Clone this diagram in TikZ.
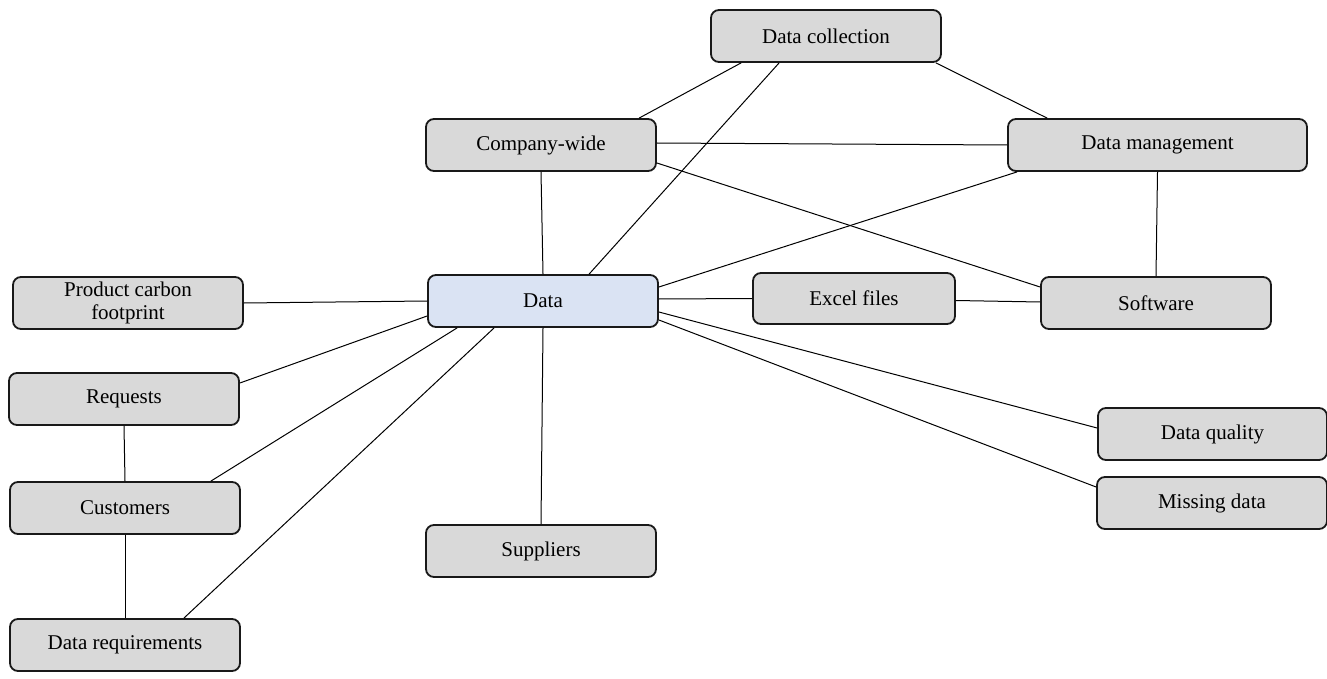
\documentclass[tikz,border=0pt]{standalone}
\usepackage{fontspec}
\setmainfont{Liberation Serif}
\begin{document}
\begin{tikzpicture}[x=1pt,y=-1pt,
  box/.style={draw=black!90, line width=1.8pt, rounded corners=8pt, fill=boxgray,
    minimum height=52pt, inner sep=2pt, align=center,
    font=\fontsize{21}{22}\selectfont},
  link/.style={draw=black, line width=1pt}]
\definecolor{boxgray}{HTML}{D9D9D9}
\definecolor{boxblue}{HTML}{DAE3F3}
\useasboundingbox (0,0) rectangle (1327,679);

% nodes
\node[box, minimum width=230pt] (dc)   at (826,36)   {Data collection};
\node[box, minimum width=230pt] (cw)   at (541,145)  {Company-wide};
\node[box, minimum width=299pt] (dm)   at (1157.5,145) {Data management};
\node[box, minimum width=230pt] (pcf)  at (128,303)  {Product carbon\\[1pt]footprint};
\node[box, minimum width=230pt, fill=boxblue] (data) at (543,301) {Data};
\node[box, minimum width=202pt, minimum height=51pt] (excel) at (854,298.5) {Excel files};
\node[box, minimum width=230pt] (sw)   at (1156,303) {Software};
\node[box, minimum width=230pt] (req)  at (124,399)  {Requests};
\node[box, minimum width=230pt] (cust) at (125,508)  {Customers};
\node[box, minimum width=230pt] (sup)  at (541,551)  {Suppliers};
\node[box, minimum width=229pt] (dq)   at (1212.5,434) {Data quality};
\node[box, minimum width=230pt] (md)   at (1212,503) {Missing data};
\node[box, minimum width=230pt] (dreq) at (125,645)  {Data requirements};

% connectors
\draw[link] ([xshift=31pt]dc.south west) -- ([xshift=214pt]cw.north west);
\draw[link] ([xshift=69pt]dc.south west) -- ([xshift=162pt]data.north west);
\draw[link] ([xshift=-6pt]dc.south east) -- ([xshift=40pt]dm.north west);
\draw[link] ([yshift=2pt]cw.east) -- (dm.west);
\draw[link] ([yshift=-18pt]cw.east) -- ([yshift=16pt]sw.west);
\draw[link] (cw.south) -- (data.north);
\draw[link] ([xshift=10pt]dm.south west) -- ([yshift=14pt]data.east);
\draw[link] (dm.south) -- (sw.north);
\draw[link] (data.west) -- (pcf.east);
\draw[link] ([yshift=2pt]data.east) -- (excel.west);
\draw[link] ([yshift=-2pt]excel.east) -- ([yshift=1pt]sw.west);
\draw[link] ([yshift=-15pt]data.west) -- ([yshift=16pt]req.east);
\draw[link] ([xshift=30pt]data.south west) -- ([xshift=-30pt]cust.north east);
\draw[link] ([xshift=67pt]data.south west) -- ([xshift=-57pt]dreq.north east);
\draw[link] (data.south) -- (sup.north);
\draw[link] (req.south) -- (cust.north);
\draw[link] (cust.south) -- (dreq.north);
\draw[link] ([yshift=-11pt]data.east) -- ([yshift=6pt]dq.west);
\draw[link] ([yshift=-19pt]data.east) -- ([yshift=16pt]md.west);
\end{tikzpicture}
\end{document}
